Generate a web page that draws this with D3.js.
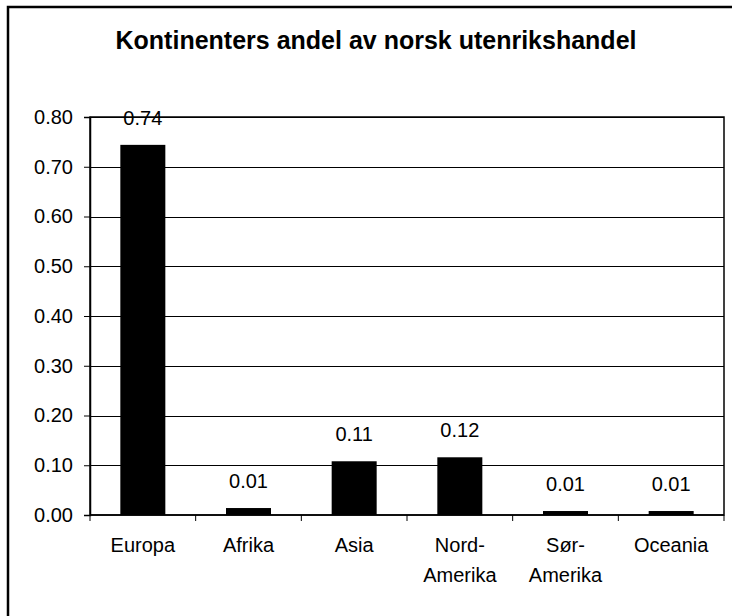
<!DOCTYPE html>
<meta charset="utf-8">
<style>
  body { margin: 0; background: #fff; }
  text { font-family: Arial, "Liberation Sans", sans-serif; fill: #000; }
</style>
<body>
<script src="https://d3js.org/d3.v7.min.js"></script>
<script>

var width = 732,
    height = 616;

// data
var continents = ["Europa", "Afrika", "Asia", "Nord-Amerika", "Sør-Amerika", "Oceania"];
var labelLines = [["Europa"], ["Afrika"], ["Asia"], ["Nord-", "Amerika"], ["Sør-", "Amerika"], ["Oceania"]];
var shares = [0.744, 0.014, 0.108, 0.116, 0.008, 0.008];
var yTicks = [0, 0.1, 0.2, 0.3, 0.4, 0.5, 0.6, 0.7, 0.8];

var margin = {top: 117, right: 8, bottom: 101, left: 90};

var svg = d3.select("body").append("svg")
    .attr("width", width)
    .attr("height", height);

// outer chart frame (runs past the right and bottom edge)
svg.append("rect")
    .attr("x", 8).attr("y", 7)
    .attr("width", 760).attr("height", 640)
    .attr("fill", "none")
    .attr("stroke", "#000")
    .attr("stroke-width", 2.5);

svg.append("text")
    .attr("x", 376).attr("y", 49)
    .attr("text-anchor", "middle")
    .style("font-size", "25px")
    .style("font-weight", "bold")
    .text("Kontinenters andel av norsk utenrikshandel");

var x = d3.scaleBand()
    .domain(continents)
    .range([margin.left, width - margin.right])
    .paddingInner(0)
    .paddingOuter(0);

var y = d3.scaleLinear()
    .domain([0, 0.8])
    .range([height - margin.bottom, margin.top]);

var g = svg.append("g");

// gridlines
g.selectAll(".grid")
    .data(yTicks.slice(1))
  .enter().append("line")
    .attr("x1", margin.left).attr("x2", width - margin.right)
    .attr("y1", function(d) { return Math.round(y(d)) + 0.5; })
    .attr("y2", function(d) { return Math.round(y(d)) + 0.5; })
    .attr("stroke", "#000")
    .attr("stroke-width", 1);

// bars
var barW = 45;
g.selectAll(".bar")
    .data(shares)
  .enter().append("rect")
    .attr("x", function(d, i) { return x(continents[i]) + x.bandwidth() / 2 - barW / 2; })
    .attr("y", function(d) { return y(d); })
    .attr("width", barW)
    .attr("height", function(d) { return y(0) - y(d); })
    .attr("fill", "#000");

// value labels
g.selectAll(".val")
    .data(shares)
  .enter().append("text")
    .attr("x", function(d, i) { return x(continents[i]) + x.bandwidth() / 2; })
    .attr("y", function(d) { return y(d) - 20; })
    .attr("text-anchor", "middle")
    .style("font-size", "20px")
    .text(function(d) { return d3.format(".2f")(d); });

// plot frame
svg.append("rect")
    .attr("x", margin.left).attr("y", margin.top)
    .attr("width", width - margin.right - margin.left)
    .attr("height", y(0) - margin.top)
    .attr("fill", "none")
    .attr("stroke", "#000")
    .attr("stroke-width", 1.5);

// y axis
var yAxis = d3.axisLeft(y)
    .tickValues(yTicks)
    .tickFormat(d3.format(".2f"))
    .tickSize(6)
    .tickPadding(11);

svg.append("g")
    .attr("transform", "translate(" + margin.left + ",0)")
    .call(yAxis)
    .call(function(s) {
      s.select(".domain").attr("stroke", "#000").attr("stroke-width", 1.5);
      s.selectAll(".tick line").attr("stroke", "#000");
      s.selectAll("text").style("font-size", "20px")
        .style("font-family", "Arial, 'Liberation Sans', sans-serif")
        .attr("fill", "#000");
    });

// x axis: ticks at category boundaries
var bounds = continents.map(function(c) { return x(c); }).concat([width - margin.right]);
svg.append("line")
    .attr("x1", margin.left).attr("x2", width - margin.right)
    .attr("y1", y(0)).attr("y2", y(0))
    .attr("stroke", "#000").attr("stroke-width", 1.5);
svg.selectAll(".xtick")
    .data(bounds)
  .enter().append("line")
    .attr("x1", function(d) { return d; }).attr("x2", function(d) { return d; })
    .attr("y1", y(0)).attr("y2", y(0) + 6)
    .attr("stroke", "#000");

var xl = svg.selectAll(".xlab")
    .data(labelLines)
  .enter().append("text")
    .attr("text-anchor", "middle")
    .attr("transform", function(d, i) {
      return "translate(" + (x(continents[i]) + x.bandwidth() / 2) + ",552)";
    })
    .style("font-size", "20px");

xl.selectAll("tspan")
    .data(function(d) { return d; })
  .enter().append("tspan")
    .attr("x", 0)
    .attr("y", function(d, i) { return i * 30; })
    .text(function(d) { return d; });

</script>
